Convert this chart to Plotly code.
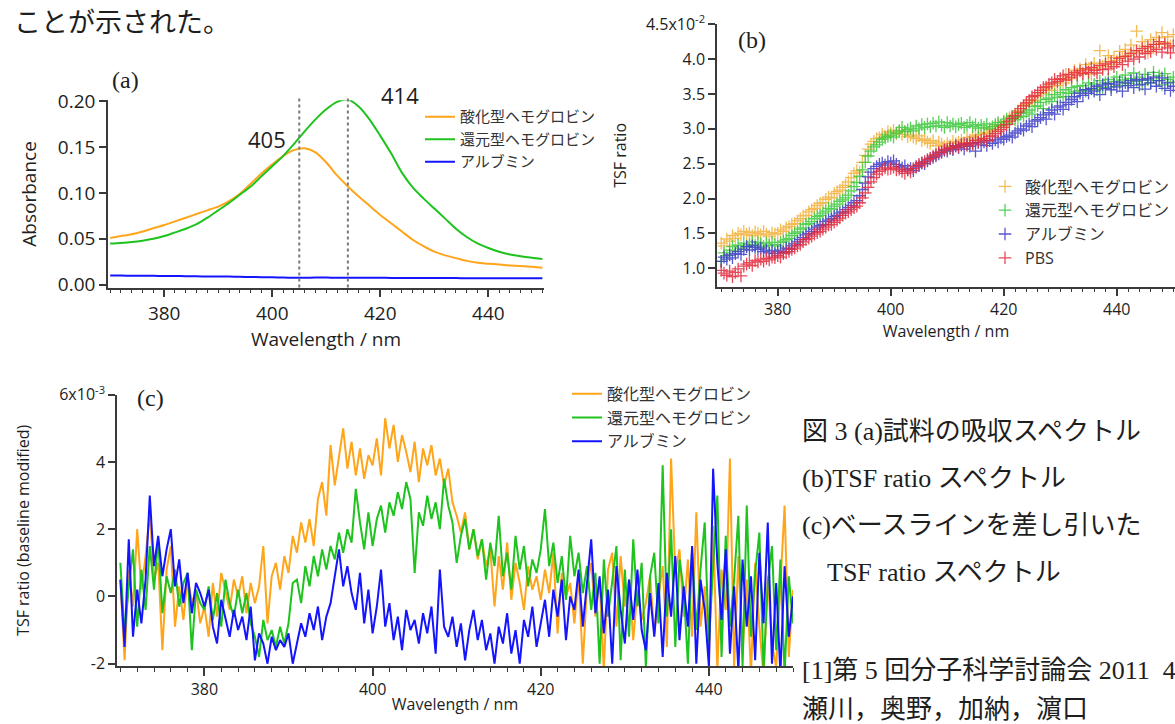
import numpy as np
import plotly.graph_objects as go

W, H = 1175, 724
# the photographed page shows the figure slightly squeezed vertically:
# shown_y = SY0 + SYK * figure_y ; positions below are given in shown (reference) pixels
SY0, SYK = 12.8, 0.967


def fx(p):
    return p / W


def fy(p):
    return 1 - ((p - SY0) / SYK) / H


# ---------------- panel (a): absorption spectra ----------------
wl_a = list(range(370, 451, 2))
abs_oxy = [0.051, 0.053, 0.055, 0.058, 0.0615, 0.065, 0.069, 0.073, 0.077, 0.081,
           0.085, 0.091, 0.099, 0.110, 0.121, 0.131, 0.140, 0.1465, 0.1485, 0.144,
           0.133, 0.119, 0.107, 0.096, 0.086, 0.076, 0.067, 0.058, 0.049, 0.042,
           0.036, 0.032, 0.029, 0.026, 0.024, 0.023, 0.022, 0.021, 0.0205, 0.0195, 0.0186]
abs_deoxy = [0.0448, 0.0455, 0.0465, 0.048, 0.050, 0.053, 0.057, 0.061, 0.066, 0.073,
             0.081, 0.089, 0.098, 0.107, 0.118, 0.129, 0.140, 0.153, 0.167, 0.180,
             0.191, 0.199, 0.2015, 0.194, 0.180, 0.162, 0.143, 0.122, 0.106, 0.094,
             0.083, 0.072, 0.061, 0.052, 0.045, 0.040, 0.036, 0.033, 0.031, 0.0295, 0.028]
abs_alb = [0.0102, 0.0100, 0.0099, 0.0098, 0.0097, 0.0096, 0.0095, 0.0094, 0.0092, 0.0091,
           0.0090, 0.0089, 0.0087, 0.0085, 0.0083, 0.0081, 0.0079, 0.0077, 0.0077, 0.0078,
           0.0078, 0.0077, 0.0076, 0.0077, 0.0077, 0.0076, 0.0075, 0.0074, 0.0074, 0.0073,
           0.0073, 0.0074, 0.0073, 0.0072, 0.0072, 0.0071, 0.0070, 0.0070, 0.0071, 0.0071, 0.0070]
peaks_a = [405, 414]

# ---------------- panel (b): TSF ratio (units of 1e-4) ----------------
wl_b = np.arange(370.0, 450.01, 0.5)
tsf_oxy_e4 = [
    136, 132, 142, 139, 147, 143, 150, 148, 153, 149,
    151, 147, 152, 150, 148, 153, 149, 146, 151, 149,
    150, 155, 153, 158, 160, 163, 164, 168, 171, 175,
    176, 181, 184, 186, 190, 193, 194, 199, 202, 201,
    207, 210, 212, 216, 219, 224, 230, 236, 240, 238,
    252, 262, 271, 278, 282, 286, 287, 292, 290, 296,
    294, 298, 293, 297, 292, 296, 289, 291, 288, 286,
    290, 283, 285, 281, 279, 283, 276, 281, 278, 275,
    279, 276, 282, 279, 281, 284, 280, 287, 284, 289,
    291, 287, 292, 295, 293, 299, 297, 303, 306, 304,
    311, 309, 316, 318, 321, 326, 324, 333, 335, 338,
    342, 340, 347, 352, 350, 357, 361, 355, 366, 362,
    371, 366, 378, 373, 372, 384, 379, 386, 380, 392,
    385, 378, 394, 387, 412, 390, 396, 405, 392, 402,
    398, 411, 403, 414, 405, 420, 410, 440, 412, 425,
    418, 409, 428, 416, 431, 421, 438, 424, 432, 419,
    435]
tsf_deoxy_e4 = [
    110, 122, 118, 126, 131, 125, 133, 129, 136, 131,
    134, 138, 133, 137, 135, 131, 136, 133, 137, 134,
    132, 137, 139, 141, 143, 147, 150, 152, 156, 158,
    163, 164, 167, 171, 174, 176, 179, 182, 186, 185,
    189, 192, 196, 198, 201, 205, 211, 217, 223, 232,
    241, 252, 261, 268, 274, 277, 281, 285, 287, 289,
    291, 288, 294, 297, 302, 296, 299, 301, 297, 304,
    300, 306, 302, 307, 303, 308, 304, 310, 305, 302,
    309, 304, 307, 303, 306, 308, 302, 305, 309, 303,
    306, 301, 305, 302, 307, 300, 303, 306, 309, 305,
    310, 314, 307, 318, 313, 316, 322, 318, 324, 327,
    321, 332, 333, 338, 329, 342, 344, 339, 349, 345,
    352, 346, 356, 351, 359, 353, 361, 355, 362, 354,
    366, 357, 364, 356, 369, 359, 366, 371, 360, 368,
    374, 362, 370, 377, 365, 372, 380, 368, 374, 364,
    378, 370, 366, 381, 369, 376, 363, 379, 371, 367,
    374]
tsf_alb_e4 = [
    110, 116, 113, 119, 115, 121, 124, 120, 127, 131,
    126, 132, 130, 127, 129, 124, 126, 122, 125, 121,
    124, 126, 123, 129, 128, 132, 135, 138, 141, 144,
    148, 150, 153, 156, 159, 161, 163, 167, 169, 171,
    174, 176, 179, 181, 184, 187, 190, 194, 197, 204,
    213, 222, 231, 238, 243, 246, 249, 251, 248, 253,
    251, 254, 249, 246, 244, 247, 241, 243, 240, 245,
    247, 251, 250, 254, 257, 259, 261, 264, 266, 269,
    268, 272, 270, 275, 273, 277, 271, 278, 275, 279,
    268, 280, 277, 281, 276, 283, 279, 284, 281, 287,
    285, 289, 291, 288, 294, 297, 300, 298, 304, 307,
    303, 311, 313, 316, 320, 314, 323, 327, 321, 331,
    333, 328, 338, 335, 342, 346, 339, 351, 348, 356,
    351, 358, 354, 361, 349, 363, 358, 365, 356, 364,
    360, 367, 354, 366, 362, 369, 359, 371, 363, 370,
    357, 372, 366, 374, 361, 369, 373, 358, 366, 355,
    361]
tsf_pbs_e4 = [
    97, 93, 90, 96, 88, 94, 99, 89, 103, 106,
    108, 104, 111, 109, 113, 110, 114, 112, 116, 115,
    118, 116, 121, 122, 124, 127, 129, 132, 134, 138,
    141, 143, 146, 149, 151, 153, 156, 159, 162, 163,
    166, 169, 172, 176, 179, 181, 184, 187, 189, 194,
    201, 208, 216, 224, 230, 235, 239, 241, 244, 242,
    243, 245, 241, 242, 239, 236, 241, 238, 243, 246,
    249, 251, 253, 256, 258, 261, 263, 266, 267, 270,
    271, 273, 272, 276, 274, 277, 279, 276, 280, 278,
    283, 281, 284, 286, 283, 289, 290, 293, 296, 299,
    302, 306, 311, 315, 319, 324, 329, 333, 337, 341,
    346, 348, 352, 355, 359, 360, 364, 366, 371, 368,
    372, 376, 370, 378, 374, 381, 377, 383, 379, 386,
    381, 388, 384, 380, 391, 385, 393, 386, 396, 389,
    395, 401, 392, 404, 397, 408, 400, 412, 403, 415,
    408, 418, 411, 421, 414, 425, 410, 422, 416, 409,
    419]

# ---------------- panel (c): baseline-subtracted TSF ratio (units of 1e-4) ----------------
wl_c = np.arange(370.0, 450.01, 0.5)
dtsf_oxy_e4 = [
    5, -19, 8, -3, 20, 2, 12, 25, 5, 10,
    -16, 8, 15, -9, 3, -7, 6, -2, 2, -8,
    -3, -12, 4, -6, 7, 1, -4, 5, 0, 6,
    -5, 4, -2, 3, 15, -8, 6, 10, 2, 12,
    7, 18, 13, 22, 16, 23, 15, 29, 34, 24,
    45, 33, 42, 50, 38, 46, 36, 44, 35, 42,
    39, 47, 36, 53, 44, 51, 40, 48, 43, 37,
    46, 34, 44, 39, 45, 36, 41, 33, 38, 28,
    24, 19, 25, 14, 20, 11, 17, 9, 14, -3,
    12, 2, 16, -1, 10, 4, -4, 9, 2, 6,
    -1, 8, 1, 13, -11, 7, 0, 4, -8, 6,
    -20, 3, 10, -6, 5, -22, 8, 13, -9, 12,
    -3, 5, -13, 2, -7, -2, 6, -11, 0, 9,
    -15, 41, 7, 14, -6, 11, -12, 25, -9, 3,
    -18, 21, -22, 8, -4, 41, -21, 12, -17, 5,
    -23, 10, -9, -24, 6, -14, -21, 3, 27, -18,
    2]
dtsf_deoxy_e4 = [
    10, -11, 3, 14, -9, 8, -4, 15, 2, 17,
    -5, 6, 1, 8, -3, 4, 7, -16, 2, -2,
    -4, 3, -7, 1, -9, 5, -2, -6, 2, -5,
    1, -8, -12, -18, -7, -13, -10, -15, -9, -14,
    -8, 4, 5, -2, 9, 3, 12, 6, 14, 8,
    15, 11, 19, 13, 20, 16, 32, 22, 14, 25,
    15, 23, 27, 19, 28, 24, 31, 26, 34, 29,
    7, 25, 21, 30, 23, 28, 20, 35, 27, 22,
    10, 18, 23, 14, 20, 12, 17, 5, 16, 9,
    24, 6, 13, 2, 18, 8, 15, 3, 11, 7,
    14, 26, 9, 16, 4, 12, -1, 18, 6, 13,
    1, 9, -4, 7, -20, 11, -6, 5, 15, -19,
    8, -12, 17, -3, 10, -21, 6, 13, -8, 39,
    -6, 20, -15, 11, 2, -20, 14, -10, 8, 22,
    -14, 9, 30, -18, 18, -9, 5, 24, -21, 27,
    -12, 7, 19, -22, 4, 15, -16, 11, -23, 6,
    -8]
dtsf_alb_e4 = [
    5, -15, 17, -12, 2, -8, 5, 30, 9, 18,
    6, 14, 20, 3, 11, -2, 7, -5, 4, 1,
    -3, 2, -9, -14, -1, -7, -12, -4, -10, -6,
    -13, -3, -19, -11, -14, -20, -12, -16, -13, -15,
    -11, -20, -14, -8, -12, -5, -10, -3, -13, -6,
    -2, 6, 14, 3, 9, 1, -4, 7, -8, 2,
    -11, -3, 8, -9, -2, -13, -6, -16, -4, -10,
    -7, -14, -5, -11, -3, -17, 8, -9, -12, -6,
    -15, -8, -19, -10, -4, -13, -7, -16, -11, -20,
    -9, -14, -5, -17, -10, -20, -7, -12, -3, -15,
    -8, -1, -12, 2, -6, 5, -13, 0, -4, 8,
    -9, 3, 17, -5, 6, -11, 2, -20, 9, -4,
    -14, 5, -7, 8, -10, -16, 1, -12, 4, -18,
    7, -6, 12, -13, 3, -9, 15, -20, 5, -4,
    -21, 38, 10, -7, 14, -17, 3, -22, 11, -9,
    6, -19, 13, -8, 22, -20, 4, -23, 9, -12,
    0]

names_hb = ["酸化型ヘモグロビン", "還元型ヘモグロビン", "アルブミン"]
name_pbs = "PBS"

ORANGE, GREEN, BLUE = "#FFA51A", "#1EC31E", "#1414FF"
B_ORANGE, B_GREEN, B_BLUE, B_RED = "#F2B13C", "#3CC83C", "#3C3CC8", "#E42A3C"

SANS = "Open Sans, Noto Sans CJK JP, sans-serif"
CJK = "Noto Sans CJK JP, sans-serif"
SERIF = "Liberation Serif, Noto Sans CJK JP, serif"
AXC = "#3a3a3a"
TXT = "#1e1e1e"

fig = go.Figure()

# (a)
for nm, ys, col in zip(names_hb, [abs_oxy, abs_deoxy, abs_alb], [ORANGE, GREEN, BLUE]):
    fig.add_trace(go.Scatter(x=wl_a, y=ys, mode="lines", name=nm,
                             line=dict(color=col, width=2, shape="spline", smoothing=0.8),
                             xaxis="x", yaxis="y", legend="legend"))

# (b)
for nm, ys, col in zip(names_hb + [name_pbs],
                       [tsf_oxy_e4, tsf_deoxy_e4, tsf_alb_e4, tsf_pbs_e4],
                       [B_ORANGE, B_GREEN, B_BLUE, B_RED]):
    fig.add_trace(go.Scatter(x=wl_b, y=np.array(ys) / 100.0, mode="markers", name=nm,
                             marker=dict(symbol="cross-thin", size=9, color=col,
                                         line=dict(color=col, width=1.3)),
                             opacity=0.85,
                             xaxis="x2", yaxis="y2", legend="legend2"))

# (c)
for nm, ys, col in zip(names_hb, [dtsf_oxy_e4, dtsf_deoxy_e4, dtsf_alb_e4], [ORANGE, GREEN, BLUE]):
    fig.add_trace(go.Scatter(x=wl_c, y=np.array(ys) / 10.0, mode="lines", name=nm,
                             line=dict(color=col, width=2),
                             xaxis="x3", yaxis="y3", legend="legend3"))


def xaxis_style(dom, rng, fsize, title, standoff, anchor):
    return dict(domain=dom, range=rng, anchor=anchor, showline=True, linecolor=AXC, linewidth=1.5,
                ticks="outside", ticklen=8, tickwidth=1.5, tickcolor=AXC,
                tick0=0, dtick=20, showgrid=False, zeroline=False,
                minor=dict(dtick=2, tick0=0, ticks="outside", ticklen=4, tickwidth=1.2,
                           tickcolor=AXC, showgrid=False),
                tickfont=dict(family=SANS, size=fsize, color=TXT),
                title=dict(text=title, font=dict(family=SANS, size=fsize, color=TXT), standoff=standoff))


def yaxis_style(dom, rng, fsize, title, standoff, anchor, **kw):
    d = dict(domain=dom, range=rng, anchor=anchor, showline=True, linecolor=AXC, linewidth=1.5,
             ticks="outside", ticklen=7, tickwidth=1.5, tickcolor=AXC,
             showgrid=False, zeroline=False,
             tickfont=dict(family=SANS, size=fsize, color=TXT),
             title=dict(text=title, font=dict(family=SANS, size=fsize, color=TXT), standoff=standoff))
    d.update(kw)
    return d


tb = [1.0, 1.5, 2.0, 2.5, 3.0, 3.5, 4.0, 4.5]
tb_txt = ["1.0", "1.5", "2.0", "2.5", "3.0", "3.5", "4.0", "4.5x10<sup>-2</sup>"]
tc = [-2, 0, 2, 4, 6]
tc_txt = ["-2", "0", "2", "4", "6x10<sup>-3</sup>"]

LEG_OFF = 17.5 / H  # first legend row centre sits this far below the legend top


def leg_y(ref_centre):
    return fy(ref_centre) + LEG_OFF


fig.update_layout(
    width=W, height=H, margin=dict(l=0, r=0, t=0, b=0), autosize=False,
    paper_bgcolor="white", plot_bgcolor="white",
    xaxis=xaxis_style([fx(108), fx(544)], [369.6, 450.3], 19, "Wavelength / nm", 8, "y"),
    yaxis=yaxis_style([fy(287), fy(100)], [-0.003, 0.2007], 19, "Absorbance", 16, "x",
                      dtick=0.05, tick0=0, tickformat=".2f"),
    xaxis2=xaxis_style([fx(717), 1.0], [369.26, 450.3], 16, "Wavelength / nm", 6, "y2"),
    yaxis2=yaxis_style([fy(286), fy(24)], [0.738, 4.5], 16, "TSF ratio", 15, "x2",
                       tickmode="array", tickvals=tb, ticktext=tb_txt),
    xaxis3=xaxis_style([fx(117), fx(793)], [369.6, 450.0], 16, "Wavelength / nm", 0, "y3"),
    yaxis3=yaxis_style([fy(665), fy(394)], [-2.07, 6.0], 16, "TSF ratio (baseline modified)", 26, "x3",
                       tickmode="array", tickvals=tc, ticktext=tc_txt),
    legend=dict(x=fx(420), y=leg_y(117), xanchor="left", yanchor="top", bgcolor="rgba(0,0,0,0)",
                font=dict(family=CJK, size=15, color="#333"), itemwidth=30, tracegroupgap=0),
    legend2=dict(x=fx(985), y=leg_y(186), xanchor="left", yanchor="top", bgcolor="rgba(0,0,0,0)",
                 font=dict(family=SANS, size=16, color="#333"), itemwidth=30, tracegroupgap=0),
    legend3=dict(x=fx(567), y=leg_y(393), xanchor="left", yanchor="top", bgcolor="rgba(0,0,0,0)",
                 font=dict(family=CJK, size=16, color="#333"), itemwidth=30, tracegroupgap=0),
)

# dashed peak markers in (a)
for p in peaks_a:
    fig.add_shape(type="line", xref="x", yref="y domain", x0=p, x1=p, y0=0, y1=1.016,
                  line=dict(color="#7a7a7a", width=2, dash="3px,3px"))

ann = []
ann.append(dict(x=fx(267), y=fy(139), xref="paper", yref="paper", text="405", showarrow=False,
                xanchor="center", yanchor="middle", font=dict(family=SANS, size=22, color=TXT)))
ann.append(dict(x=fx(400), y=fy(95), xref="paper", yref="paper", text="414", showarrow=False,
                xanchor="center", yanchor="middle", font=dict(family=SANS, size=22, color=TXT)))
for lab, xx, yy in [("(a)", 125, 80), ("(b)", 752, 40), ("(c)", 150, 397)]:
    ann.append(dict(x=fx(xx), y=fy(yy), xref="paper", yref="paper", text=lab, showarrow=False,
                    xanchor="center", yanchor="middle",
                    font=dict(family="Liberation Serif, serif", size=24, color=TXT)))
ann.append(dict(x=fx(12), y=fy(20), xref="paper", yref="paper", xanchor="left", yanchor="middle",
                text="ことが示された。", showarrow=False, font=dict(family=CJK, size=27, color=TXT)))
caption = [("図 3 (a)試料の吸収スペクトル", 800, 431),
           ("(b)TSF ratio スペクトル", 800, 478),
           ("(c)ベースラインを差し引いた", 800, 525),
           ("TSF ratio スペクトル", 825, 572),
           ("[1]第 5 回分子科学討論会 2011  4P-0", 800, 669),
           ("瀬川，奥野，加納，濵口", 800, 708)]
for t, xx, yy in caption:
    ann.append(dict(x=fx(xx), y=fy(yy), xref="paper", yref="paper", xanchor="left", yanchor="middle",
                    text=t, showarrow=False, font=dict(family=SERIF, size=26, color=TXT)))
fig.update_layout(annotations=ann)

post = ("document.documentElement.style.margin='0';"
        "document.documentElement.style.height='724px';"
        "document.documentElement.style.overflow='hidden';"
        "document.body.style.margin='0';"
        "document.body.style.height='724px';"
        "document.body.style.overflow='hidden';"
        "var gd=document.getElementById('{plot_id}');"
        "gd.style.position='fixed';gd.style.left='0px';gd.style.top='0px';")
fig.write_html("out.html", post_script=post,
               config={"displayModeBar": False, "responsive": False})
